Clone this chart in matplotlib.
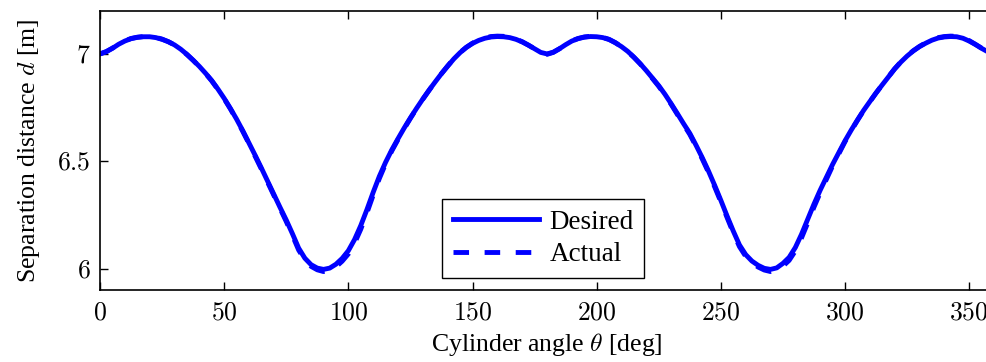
import matplotlib
matplotlib.use("Agg")
import matplotlib.pyplot as plt
from matplotlib.ticker import FuncFormatter

plt.rcParams['font.family'] = ['Liberation Serif', 'DejaVu Serif']
plt.rcParams['mathtext.fontset'] = 'cm'

# cylinder angle, every 2.5 deg
theta = [i * 2.5 for i in range(145)]

desired = [
    7.000, 7.010, 7.026, 7.045, 7.060, 7.071, 7.077, 7.080, 7.080, 7.076,
    7.068, 7.057, 7.042, 7.022, 6.998, 6.971, 6.942, 6.910, 6.876, 6.836,
    6.793, 6.746, 6.696, 6.642, 6.585, 6.527, 6.468, 6.407, 6.345, 6.285,
    6.226, 6.162, 6.095, 6.048, 6.018, 6.002, 5.996, 6.002, 6.020, 6.047,
    6.083, 6.135, 6.200, 6.275, 6.355, 6.430, 6.495, 6.553, 6.605, 6.655,
    6.702, 6.747, 6.790, 6.831, 6.870, 6.908, 6.943, 6.977, 7.006, 7.030,
    7.049, 7.063, 7.073, 7.079, 7.081, 7.080, 7.076, 7.068, 7.056, 7.041,
    7.024, 7.007, 7.000, 7.008, 7.024, 7.043, 7.060, 7.071, 7.078, 7.081,
    7.080, 7.076, 7.067, 7.052, 7.034, 7.012, 6.985, 6.955, 6.922, 6.887,
    6.852, 6.812, 6.768, 6.722, 6.675, 6.630, 6.575, 6.517, 6.455, 6.388,
    6.318, 6.245, 6.175, 6.110, 6.065, 6.035, 6.015, 6.001, 5.996, 6.003,
    6.024, 6.052, 6.098, 6.160, 6.230, 6.300, 6.365, 6.425, 6.485, 6.540,
    6.595, 6.645, 6.692, 6.737, 6.778, 6.818, 6.856, 6.893, 6.930, 6.962,
    6.990, 7.014, 7.034, 7.050, 7.064, 7.074, 7.079, 7.081, 7.080, 7.073,
    7.060, 7.044, 7.026, 7.010, 7.000]

actual = [
    7.000, 7.011, 7.027, 7.046, 7.061, 7.072, 7.078, 7.081, 7.081, 7.077,
    7.069, 7.057, 7.042, 7.021, 6.997, 6.970, 6.941, 6.909, 6.874, 6.834,
    6.791, 6.744, 6.693, 6.639, 6.582, 6.523, 6.463, 6.402, 6.340, 6.279,
    6.219, 6.154, 6.086, 6.040, 6.010, 5.994, 5.986, 5.990, 6.008, 6.034,
    6.068, 6.118, 6.183, 6.260, 6.342, 6.420, 6.488, 6.548, 6.601, 6.652,
    6.700, 6.746, 6.789, 6.830, 6.870, 6.908, 6.944, 6.978, 7.007, 7.031,
    7.050, 7.065, 7.075, 7.081, 7.083, 7.082, 7.077, 7.069, 7.057, 7.041,
    7.024, 7.006, 6.998, 7.007, 7.024, 7.043, 7.061, 7.072, 7.079, 7.082,
    7.081, 7.077, 7.068, 7.053, 7.034, 7.011, 6.984, 6.954, 6.920, 6.885,
    6.849, 6.809, 6.765, 6.718, 6.671, 6.625, 6.570, 6.511, 6.449, 6.381,
    6.311, 6.238, 6.167, 6.102, 6.057, 6.027, 6.007, 5.993, 5.986, 5.992,
    6.011, 6.038, 6.082, 6.143, 6.213, 6.286, 6.353, 6.416, 6.478, 6.535,
    6.591, 6.642, 6.690, 6.736, 6.777, 6.818, 6.856, 6.894, 6.931, 6.963,
    6.991, 7.015, 7.035, 7.052, 7.066, 7.076, 7.081, 7.083, 7.082, 7.075,
    7.062, 7.045, 7.027, 7.010, 7.000]

fig = plt.figure(figsize=(9.86, 3.62), dpi=100)
ax = fig.add_axes([100/986, 1 - 290/362, 894/986, 279/362])

ax.plot(theta, desired, color='blue', lw=3.5, label='Desired')
ax.plot(theta, actual, color='blue', lw=3.5, dashes=(3.2, 3.2), label='Actual')

ax.set_xlim(0, 360)
ax.set_ylim(5.9, 7.2)
ax.set_xticks([0, 50, 100, 150, 200, 250, 300, 350])
ax.set_yticks([6, 6.5, 7])
fmt = FuncFormatter(lambda v, p: f"${v:g}$")
ax.xaxis.set_major_formatter(fmt)
ax.yaxis.set_major_formatter(fmt)
ax.tick_params(direction='in', length=6, width=1, top=True, right=True,
               labelsize=18.5)
ax.tick_params(axis='x', pad=9)
ax.tick_params(axis='y', pad=7)
for s in ax.spines.values():
    s.set_linewidth(1.2)

ax.set_xlabel(r'Cylinder angle $\theta$ [deg]', fontsize=18.5, labelpad=5)
ax.set_ylabel(r'Separation distance $d$ [m]', fontsize=18.5, labelpad=11)

leg = ax.legend(loc='lower left', bbox_to_anchor=(0.383, 0.043), borderaxespad=0,
                fontsize=19.5, handlelength=3.15, fancybox=False, framealpha=1,
                edgecolor='black', borderpad=0.4, labelspacing=0.28,
                handletextpad=0.4)
leg.get_frame().set_linewidth(1.0)

fig.savefig('out.png', dpi=100)
